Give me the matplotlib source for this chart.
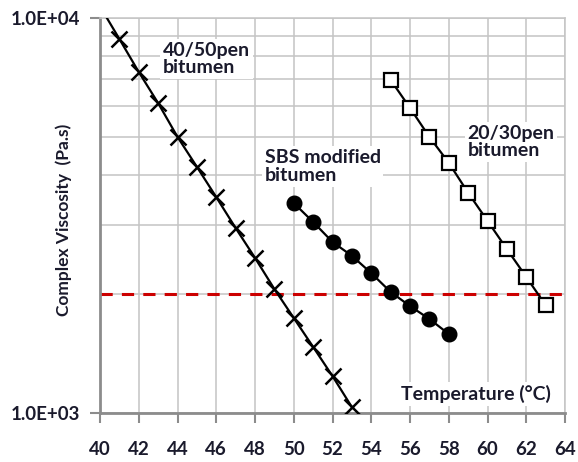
import numpy as np
import matplotlib.pyplot as plt
from matplotlib.ticker import FixedLocator, LogLocator, NullFormatter

plt.rcParams['font.family'] = ['Lato', 'DejaVu Sans']
plt.rcParams['font.weight'] = 'bold'

# viscosity (Pa.s) against temperature (°C)
temp_4050 = [40, 41, 42, 43, 44, 45, 46, 47, 48, 49, 50, 51, 52, 53]
visc_4050 = [10700, 8850, 7300, 6090, 5000, 4200, 3520, 2940, 2470, 2060, 1740, 1470, 1240, 1035]

temp_sbs = [50, 51, 52, 53, 54, 55, 56, 57, 58]
visc_sbs = [3400, 3045, 2710, 2500, 2260, 2025, 1865, 1730, 1585]

temp_2030 = [55, 56, 57, 58, 59, 60, 61, 62, 63]
visc_2030 = [6970, 5920, 5000, 4300, 3610, 3065, 2600, 2210, 1875]

limit_visc = 2000
x_ticks = list(range(40, 65, 2))
text_col = '#1a1a2c'

fig = plt.figure(figsize=(5.78, 4.62), dpi=100)
ax = fig.add_axes([100 / 578, 49 / 462, 465 / 578, 395 / 462])

ax.set_yscale('log')
ax.set_xlim(40, 64)
ax.set_ylim(1000, 10000)

ax.xaxis.set_major_locator(FixedLocator(x_ticks))
ax.yaxis.set_major_locator(FixedLocator([1000, 10000]))
ax.yaxis.set_minor_locator(LogLocator(base=10, subs=np.arange(2, 10)))
ax.yaxis.set_minor_formatter(NullFormatter())
ax.set_yticklabels(['1.0E+03', '1.0E+04'])

ax.grid(True, which='both', color='#c4c4c4', linewidth=1.1)
ax.set_axisbelow(True)
for side in ['top', 'right']:
    ax.spines[side].set_color('#c4c4c4')
    ax.spines[side].set_linewidth(1.1)
for side in ['left', 'bottom']:
    ax.spines[side].set_color('#8c8c8c')
    ax.spines[side].set_linewidth(2)
ax.tick_params(which='major', length=7, width=1.5, color='#8c8c8c',
               labelsize=13.5, labelcolor=text_col)
ax.tick_params(axis='x', pad=13)
ax.tick_params(axis='y', pad=7)
ax.tick_params(which='minor', length=0)

ax.axhline(limit_visc, color='#cc0000', linestyle=(0, (4, 3)), linewidth=2.2, zorder=2)

ax.plot(temp_4050, visc_4050, color='black', linewidth=1.6, marker='x',
        markersize=11, markeredgewidth=1.8, zorder=3)
ax.plot(temp_sbs, visc_sbs, color='black', linewidth=1.6, marker='o',
        markersize=10.5, zorder=3)
ax.plot(temp_2030, visc_2030, color='black', linewidth=1.6, marker='s',
        markersize=10, markerfacecolor='white', markeredgewidth=1.6, zorder=4)

# series labels sit in white boxes over the grid
box = dict(facecolor='white', edgecolor='none', pad=2)
label_kw = dict(fontsize=14, color=text_col, linespacing=1.05, bbox=box,
                zorder=5, transform=ax.transAxes, va='top', ha='left')
ax.text(0.135, 0.94, '40/50pen\nbitumen', **label_kw)
ax.text(0.354, 0.668, 'SBS modified\nbitumen', **label_kw)
ax.text(0.79, 0.73, '20/30pen\nbitumen', **label_kw)
ax.text(0.648, 0.033, 'Temperature (°C)', fontsize=14, color=text_col,
        bbox=box, zorder=5, transform=ax.transAxes, va='baseline', ha='left')

ax.set_ylabel('Complex Viscosity  (Pa.s)', fontsize=12.5, fontweight='bold',
              color=text_col)
ax.yaxis.set_label_coords(-0.06, 0.49)

fig.savefig('out.png', dpi=100)
